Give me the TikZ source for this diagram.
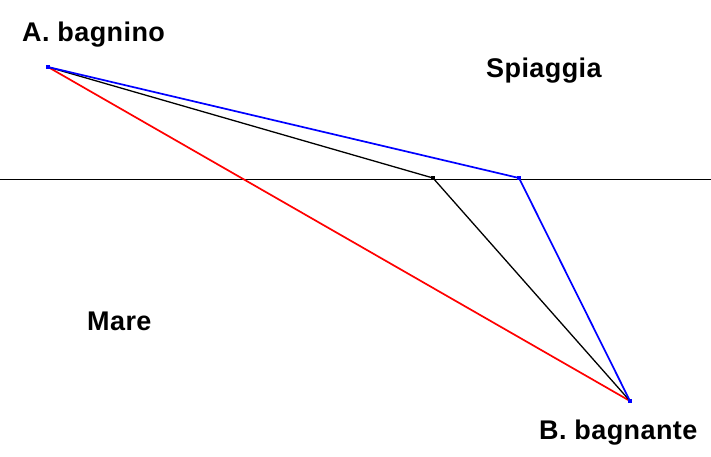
\documentclass[tikz,border=0pt]{standalone}
\usepackage{fontspec}
\setmainfont{Liberation Sans}
\begin{document}
\begin{tikzpicture}[x=1pt,y=-1pt,
  lbl/.style={anchor=base west,inner sep=0pt,font=\fontsize{27}{31}\selectfont\bfseries\addfontfeature{LetterSpace=1.5}},
  seg/.style={line width=1.7pt},
  dotb/.style={fill=blue,inner sep=0pt,minimum size=4.5pt,draw=none,rectangle},
  dotk/.style={fill=black,inner sep=0pt,minimum size=3.5pt,draw=none,rectangle}]
\useasboundingbox (0,0) rectangle (711,457);
\coordinate (L) at (0,179);
\coordinate (R) at (711,179);
\coordinate (A) at (48,67);
\coordinate (B) at (630,401);
\coordinate (P) at (433,178);
\coordinate (Q) at (519,178);
\draw[line width=0.9pt] (L) -- (R);
\draw[seg,red] (A) -- (B);
\draw[seg,black,line width=1.3pt] (A) -- (P) -- (B);
\draw[seg,blue] (A) -- (Q) -- (B);
\node[dotb] (dA) at (A) {};
\node[dotb] (dB) at (B) {};
\node[dotb] (dQ) at (Q) {};
\node[dotk] (dP) at (P) {};
\node[lbl] (tA) at (22,42) {A. bagnino};
\node[lbl] (tS) at (486,78) {Spiaggia};
\node[lbl] (tM) at (87,330) {Mare};
\node[lbl] (tB) at (539,439) {B. bagnante};
\end{tikzpicture}
\end{document}
